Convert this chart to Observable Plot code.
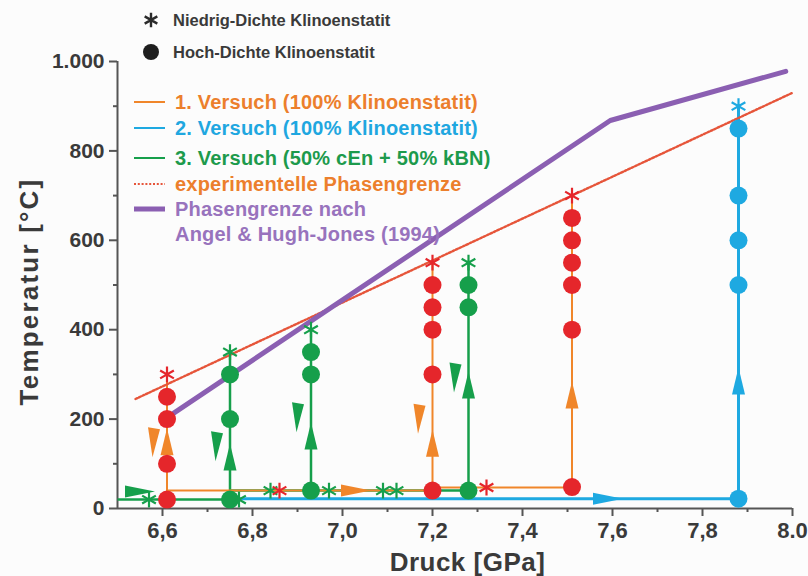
<!DOCTYPE html>
<html>
<head>
<meta charset="utf-8">
<script src="https://cdn.jsdelivr.net/npm/d3@7"></script>
<script src="https://cdn.jsdelivr.net/npm/@observablehq/plot@0.6"></script>
<style>
  html, body { margin: 0; padding: 0; background: #fcfcfc; }
  #chart { width: 808px; height: 576px; }
</style>
</head>
<body>
<div id="chart"></div>
<script>
const FONT = "'Liberation Sans', Arial, Helvetica, sans-serif";

// Axis ticks
const pressureTicks = [6.6, 6.8, 7.0, 7.2, 7.4, 7.6, 7.8, 8.0];
const pressureTickLabels = ["6,6", "6,8", "7,0", "7,2", "7,4", "7,6", "7,8", "8.0"];
const pressureMinor = [6.7, 6.9, 7.1, 7.3, 7.5, 7.7, 7.9];
const tempTicks = [0, 200, 400, 600, 800, 1000];
const tempTickLabels = ["0", "200", "400", "600", "800", "1.000"];
const tempMinor = [100, 300, 500, 700, 900];
const xTitle = "Druck [GPa]";
const yTitle = "Temperatur [°C]";

// Run 1 (100% clinoenstatite): path segments [p1, T1, p2, T2] in GPa / °C
const run1Path = [[6.61, 20, 6.61, 300], [6.61, 40, 7.2, 40], [7.2, 40, 7.2, 550], [7.2, 47, 7.51, 47], [7.51, 47, 7.51, 700]];
const run1High = [[6.61, 20], [6.61, 100], [6.61, 200], [6.61, 250], [7.2, 40], [7.2, 300], [7.2, 400], [7.2, 450], [7.2, 500],
                  [7.51, 48], [7.51, 400], [7.51, 500], [7.51, 550], [7.51, 600], [7.51, 650]];
const run1Low = [[6.61, 300], [6.86, 40], [7.2, 550], [7.32, 47], [7.51, 700]];
const run1Up = [[6.61, 148], [7.2, 145], [7.51, 253]];
const run1Down = [[6.61, 148], [7.2, 201]];
const run1Right = [[7.03, 40]];

// Run 2 (100% clinoenstatite)
const run2Path = [[6.76, 22, 7.88, 22], [7.88, 22, 7.88, 900]];
const run2High = [[7.88, 22], [7.88, 500], [7.88, 600], [7.88, 700], [7.88, 850]];
const run2Low = [[7.88, 900]];
const run2Up = [[7.88, 284]];
const run2Right = [[7.59, 22]];

// Run 3 (50% cEn + 50% kBN)
const run3Path = [[6.5, 20, 6.75, 20], [6.75, 20, 6.75, 350], [6.75, 40, 7.28, 40], [6.93, 40, 6.93, 400], [7.28, 40, 7.28, 550]];
const run3High = [[6.75, 20], [6.75, 200], [6.75, 300], [6.93, 40], [6.93, 300], [6.93, 350], [7.28, 40], [7.28, 450], [7.28, 500]];
const run3Low = [[6.57, 20], [6.77, 20], [6.75, 350], [6.84, 40], [6.97, 40], [7.09, 40], [7.12, 40], [6.93, 400], [7.28, 550]];
const run3Up = [[6.75, 114], [6.93, 161], [7.28, 275]];
const run3Down = [[6.75, 139], [6.93, 204], [7.28, 293]];
const run3Right = [[6.55, 38]];

// Phase boundaries
const experimentalBoundary = [[6.54, 245], [8.0, 930]];
const angelBoundary = [[6.62, 210], [7.595, 868], [7.985, 978]];

const ORANGE = "#f0862a", BLUE = "#1ea9e1", GREEN = "#169f4b", RED = "#e5262b",
      PURPLE = "#8b5fb2", DOTTED = "#e6553a", AXIS = "#555", INK = "#3a3a3a";

// Arrow heads drawn as custom dot symbols
const wedgeUp = {draw(c) { c.moveTo(0, -14); c.lineTo(6.5, 13); c.lineTo(-6.5, 13); c.closePath(); }};
const wedgeDown = {draw(c) { c.moveTo(-6, -15); c.lineTo(6, -13); c.lineTo(-1.5, 15); c.closePath(); }};
const wedgeRight = {draw(c) { c.moveTo(-15, -6); c.lineTo(15, 0); c.lineTo(-15, 6); c.closePath(); }};

const seg = (rows, stroke, strokeWidth) => Plot.link(rows, {
  x1: d => d[0], y1: d => d[1], x2: d => d[2], y2: d => d[3], stroke, strokeWidth
});
const high = (rows, fill) => Plot.dot(rows, {x: d => d[0], y: d => d[1], r: 9, fill, symbol: "circle"});
const low = (rows, stroke) => Plot.dot(rows, {x: d => d[0], y: d => d[1], r: 7.5, stroke, strokeWidth: 2.2, symbol: "asterisk"});
const arrows = (rows, fill, symbol, dx = 0) => Plot.dot(rows, {x: d => d[0], y: d => d[1], fill, symbol, r: 10, dx});

// Legend rows inside the frame
const legendRows = [
  {label: "1. Versuch (100% Klinoenstatit)", color: "#ec7f2c", swatch: ORANGE, kind: "line"},
  {label: "2. Versuch (100% Klinoenstatit)", color: "#1fa7e0", swatch: BLUE, kind: "line"},
  {label: "3. Versuch (50% cEn + 50% kBN)", color: "#1d9a4c", swatch: GREEN, kind: "line"},
  {label: "experimentelle Phasengrenze", color: "#ec7f2c", swatch: DOTTED, kind: "dotted"},
  {label: "Phasengrenze nach", color: "#9873bd", swatch: PURPLE, kind: "thick"},
  {label: "Angel & Hugh-Jones (1994)", color: "#9873bd", swatch: null, kind: null}
];
const legendRowY = [102, 128, 158, 184, 209, 234];

const densityKey = [
  {label: "Niedrig-Dichte Klinoenstatit", symbol: "asterisk"},
  {label: "Hoch-Dichte Klinoenstatit", symbol: "circle"}
];
const densityKeyY = [20, 52];

// Keys and axis titles, drawn in one layer
function annotationLayer() {
  return (index, scales, values, dims) => {
    const g = d3.create("svg:g").attr("font-family", FONT).attr("font-weight", "bold").attr("text-anchor", "start");
    densityKey.forEach((k, i) => {
      const y = densityKeyY[i];
      if (k.symbol === "asterisk") {
        g.append("path").attr("transform", `translate(151,${y})`)
          .attr("d", d3.symbol(d3.symbolAsterisk, 150)())
          .attr("stroke", "#2a2a2a").attr("stroke-width", 2.4).attr("fill", "none");
      } else {
        g.append("circle").attr("cx", 151).attr("cy", y).attr("r", 8).attr("fill", "#1e1e1e");
      }
      g.append("text").attr("x", 173).attr("y", y).attr("dy", "0.36em")
        .attr("font-size", 16.5).attr("fill", INK).text(k.label);
    });
    legendRows.forEach((r, i) => {
      const y = legendRowY[i];
      if (r.kind) {
        g.append("line").attr("x1", 134).attr("x2", 165).attr("y1", y).attr("y2", y)
          .attr("stroke", r.swatch)
          .attr("stroke-width", r.kind === "thick" ? 5 : 2)
          .attr("stroke-dasharray", r.kind === "dotted" ? "2,1.8" : null);
      }
      g.append("text").attr("x", 175).attr("y", y).attr("dy", "0.36em")
        .attr("font-size", 20).attr("letter-spacing", 0.2).attr("fill", r.color).text(r.label);
    });
    const {width, height, marginLeft, marginRight, marginTop, marginBottom} = dims;
    const cx = (marginLeft + width - marginRight) / 2;
    const cy = (marginTop + height - marginBottom) / 2;
    g.append("text").attr("text-anchor", "middle")
      .attr("transform", `translate(${cx + 13},${height - 5})`)
      .attr("font-size", 26).attr("letter-spacing", 0.5).attr("fill", INK).text(xTitle);
    g.append("text").attr("text-anchor", "middle")
      .attr("transform", `translate(38,${cy + 7}) rotate(-90)`)
      .attr("font-size", 26).attr("letter-spacing", 2.2).attr("fill", INK).text(yTitle);
    return g.node();
  };
}

const chart = Plot.plot({
  width: 808,
  height: 576,
  marginLeft: 117,
  marginRight: 16,
  marginTop: 61,
  marginBottom: 68,
  x: {domain: [6.5, 8.0]},
  y: {domain: [0, 1000]},
  style: {fontFamily: FONT, background: "transparent", overflow: "visible"},
  marks: [
    // axes
    Plot.axisX(pressureMinor, {tickSize: 4, tickFormat: () => "", stroke: AXIS, strokeWidth: 2, label: null}),
    Plot.axisX(pressureTicks, {
      tickSize: 8, tickPadding: 6, tickFormat: d => pressureTickLabels[pressureTicks.indexOf(d)],
      stroke: AXIS, strokeWidth: 2, fill: INK, fontSize: 22, fontWeight: "bold", label: null
    }),
    Plot.axisY(tempMinor, {tickSize: 4, tickFormat: () => "", stroke: AXIS, strokeWidth: 2, label: null}),
    Plot.axisY(tempTicks, {
      tickSize: 8, tickPadding: 5, tickFormat: d => tempTickLabels[tempTicks.indexOf(d)],
      stroke: AXIS, strokeWidth: 2, fill: INK, fontSize: 21, fontWeight: "bold", label: null
    }),
    Plot.ruleY([0], {stroke: AXIS, strokeWidth: 2}),
    Plot.ruleX([6.5], {stroke: AXIS, strokeWidth: 2}),

    // experiment paths
    seg(run2Path, BLUE, 3),
    seg(run3Path, GREEN, 2.5),
    seg(run1Path, ORANGE, 2),

    // phase boundaries
    Plot.line(experimentalBoundary, {x: d => d[0], y: d => d[1], stroke: DOTTED, strokeWidth: 2.4, strokeDasharray: "2,1.8"}),
    Plot.line(angelBoundary, {x: d => d[0], y: d => d[1], stroke: PURPLE, strokeWidth: 5}),

    // direction arrows
    arrows(run1Up, ORANGE, wedgeUp),
    arrows(run1Down, ORANGE, wedgeDown, -13),
    arrows(run1Right, ORANGE, wedgeRight),
    arrows(run2Up, BLUE, wedgeUp),
    arrows(run2Right, BLUE, wedgeRight),
    arrows(run3Up, GREEN, wedgeUp),
    arrows(run3Down, GREEN, wedgeDown, -13),
    arrows(run3Right, GREEN, wedgeRight),

    // measurements
    high(run2High, BLUE),
    high(run3High, GREEN),
    high(run1High, RED),
    low(run2Low, BLUE),
    low(run3Low, GREEN),
    low(run1Low, RED),

    annotationLayer()
  ]
});

document.getElementById("chart").append(chart);
</script>
</body>
</html>
